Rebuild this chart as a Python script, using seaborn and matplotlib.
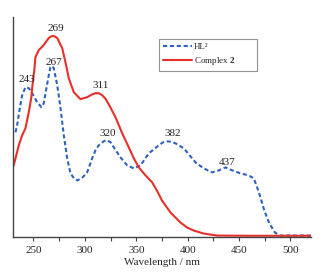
import matplotlib
matplotlib.use('Agg')
import matplotlib.pyplot as plt
from matplotlib.ticker import MultipleLocator
import pandas as pd
import seaborn as sns

# spectra (wavelength in nm, absorbance in arbitrary units)
hl_nm = [232.5, 234.1, 236.7, 239.0, 242.2, 245.4, 248.7, 253.6, 257.8, 260.0, 262.6, 264.9,
         266.5, 268.0, 269.7, 273.1, 276.3, 279.5, 282.8, 286.0, 289.5, 292.8, 297.7, 302.2,
         307.1, 310.3, 313.5, 316.0, 319.0, 321.7, 325.0, 328.1, 334.6, 341.1, 347.6, 354.1,
         362.2, 371.9, 376.0, 380.1, 384.0, 388.1, 396.2, 399.5, 407.6, 415.7, 423.8, 430.3,
         436.8, 443.3, 451.4, 459.4, 464.3, 467.6, 470.8, 474.5, 479.5, 485.0, 489.5, 495, 520]
hl_abs = [104, 111, 128, 141, 149, 148, 143, 134, 129, 133, 148, 161,
          169, 170, 168, 151, 128, 101, 78, 63, 58, 56, 59, 64,
          78, 86, 91, 93, 95.5, 96, 94, 89, 79, 71, 68, 71,
          83, 91, 94, 95, 94.5, 93, 88, 84, 74, 68, 64, 66,
          69, 66, 63, 61, 58, 49, 39, 26, 13, 4, 1, 1, 1]

cx_nm = [230.8, 232.5, 235.7, 239.0, 242.2, 245.4, 247.8, 248.7, 251.0, 251.9, 255.2, 260.0,
         264.9, 267.0, 268.8, 271.0, 273.1, 277.9, 281.1, 284.3, 289.2, 295.7, 302.2, 306.5,
         310.3, 313.5, 316.8, 320.0, 323.2, 329.8, 336.3, 342.7, 347.6, 352.4, 359.0, 365.5,
         370.0, 375.0, 383.3, 393.0, 399.5, 405.9, 415.7, 428.7, 460, 520]
cx_abs = [71, 78, 91, 101, 108, 124, 138, 148, 168, 179, 186, 191,
          198, 199.5, 200, 199.5, 198, 188, 174, 158, 144, 137, 139, 141.5,
          143, 143, 141, 137.5, 132, 119, 103, 89, 78, 69, 61, 54,
          46, 36, 24, 14, 9, 6, 3, 1, 0.8, 0.8]

peak_labels = ['269', '267', '243', '311', '320', '382', '437']
peak_x = [271.4, 269.5, 243.2, 315.2, 322, 385.2, 438.7]
peak_y = [207, 174, 157, 151, 103, 103, 74]

df = pd.concat([
    pd.DataFrame({'nm': hl_nm, 'A': hl_abs, 'series': 'HL²'}),
    pd.DataFrame({'nm': cx_nm, 'A': cx_abs, 'series': r'Complex $\mathbf{2}$'}),
])

sns.set_style('ticks')
plt.rcParams['font.family'] = ['Liberation Serif', 'DejaVu Serif']
plt.rcParams['mathtext.fontset'] = 'custom'
plt.rcParams['mathtext.rm'] = 'Liberation Serif'
plt.rcParams['mathtext.bf'] = 'Liberation Serif:bold'

fig = plt.figure(figsize=(3.23, 2.78), dpi=100)
ax = fig.add_axes([0.040, 0.149, 0.923, 0.790])

palette = {'HL²': '#2f62bd', r'Complex $\mathbf{2}$': '#e8302a'}
sns.lineplot(data=df, x='nm', y='A', hue='series', style='series', palette=palette,
             dashes={'HL²': (2.0, 1.3), r'Complex $\mathbf{2}$': ''},
             linewidth=1.5, sort=False, estimator=None, ax=ax)

for lab, x, y in zip(peak_labels, peak_x, peak_y):
    ax.text(x, y, lab, fontsize=8, ha='center', va='center', color='#222222')

ax.set_xlim(230, 520)
ax.set_ylim(0, 219)
ax.xaxis.set_major_locator(MultipleLocator(50))
ax.xaxis.set_minor_locator(MultipleLocator(25))
ax.tick_params(axis='x', which='both', direction='out', length=3, width=0.8,
               labelsize=8, pad=4, color='#444444')
ax.set_yticks([])
ax.set_xlabel('Wavelength / nm', fontsize=8, labelpad=2)
ax.set_ylabel('')
for s in ['top', 'right']:
    ax.spines[s].set_visible(False)
for s in ['left', 'bottom']:
    ax.spines[s].set_color('#444444')
    ax.spines[s].set_linewidth(1.0)

leg = ax.legend(loc='upper left', bbox_to_anchor=(0.490, 0.763, 0.329, 0.137), mode='expand',
                fontsize=6.5, frameon=True, fancybox=False, edgecolor='#777777',
                handlelength=3.2, handletextpad=0.2, borderpad=0.45, labelspacing=0.45,
                borderaxespad=0, title=None)
leg.get_frame().set_linewidth(0.8)

fig.savefig('out.png', dpi=100)
